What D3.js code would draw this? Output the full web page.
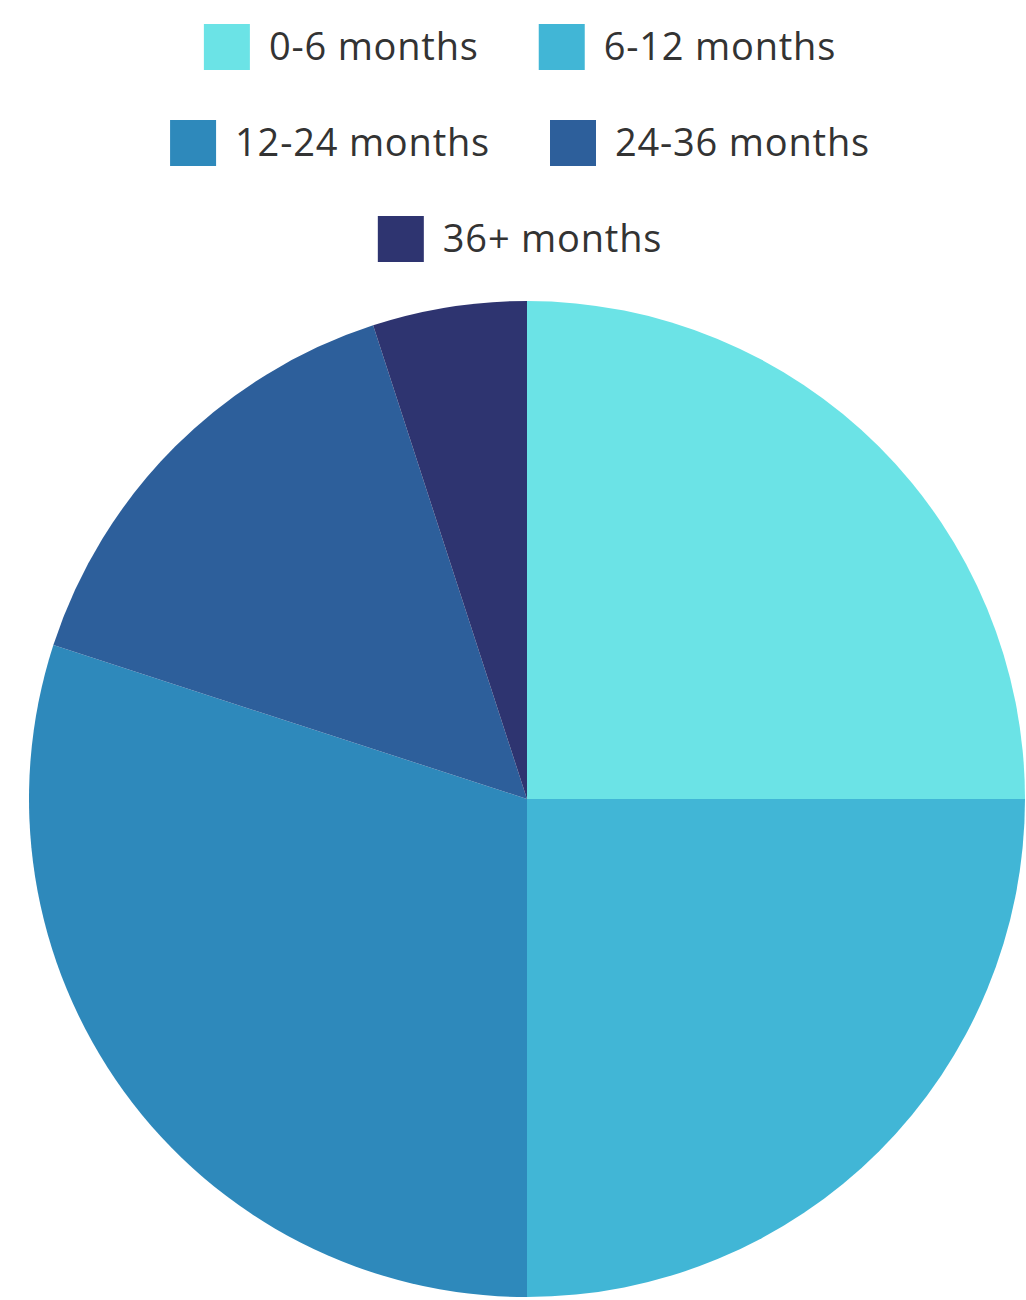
<!DOCTYPE html>
<html>
<head>
<meta charset="utf-8">
<script src="https://cdn.jsdelivr.net/npm/d3@7"></script>
<style>
  body { margin: 0; background: #fff; }
  svg text { font-family: "Open Sans", sans-serif; fill: #333; }
</style>
</head>
<body>
<div id="graphic"></div>
<script>
// data (percent of total)
const categories = ["0-6 months", "6-12 months", "12-24 months", "24-36 months", "36+ months"];
const values = [25, 25, 30, 15, 5];
const colours = ["#6be3e6", "#41b6d6", "#2e89bb", "#2d5f9b", "#2e3470"];
const legendRows = [[0, 1], [2, 3], [4]];

const width = 1026, height = 1300;
const cx = 527, cy = 799, radius = 498;

const svg = d3.select('#graphic').append('svg')
  .attr('width', width)
  .attr('height', height);

const pieData = d3.pie().sort(null)(values);
const arc = d3.arc().innerRadius(0).outerRadius(radius);

svg.append('g')
  .attr('transform', 'translate(' + cx + ',' + cy + ')')
  .selectAll('path')
  .data(pieData)
  .join('path')
  .attr('fill', (d, i) => colours[i])
  .attr('d', arc);

// legend, each row centred
const sq = 46, textGap = 19, itemGap = 60, legendCentre = 520;
const rowY = [47, 143, 239];

legendRows.forEach(function (row, r) {
  const g = svg.append('g');
  const items = g.selectAll('g.item')
    .data(row)
    .join('g')
    .attr('class', 'item');

  items.append('rect')
    .attr('width', sq).attr('height', sq)
    .attr('y', rowY[r] - sq / 2)
    .attr('fill', i => colours[i]);

  items.append('text')
    .attr('x', sq + textGap)
    .attr('y', rowY[r])
    .attr('dy', '0.35em')
    .style('font-size', '38px')
    .style('letter-spacing', '0.8px')
    .text(i => categories[i]);

  // position items side by side
  let x = 0;
  const widths = [];
  items.each(function () {
    widths.push(sq + textGap + d3.select(this).select('text').node().getComputedTextLength());
  });
  const total = d3.sum(widths) + itemGap * (widths.length - 1);
  x = legendCentre - total / 2;
  items.each(function (d, i) {
    d3.select(this).attr('transform', 'translate(' + x + ',0)');
    x += widths[i] + itemGap;
  });
});
</script>
</body>
</html>
